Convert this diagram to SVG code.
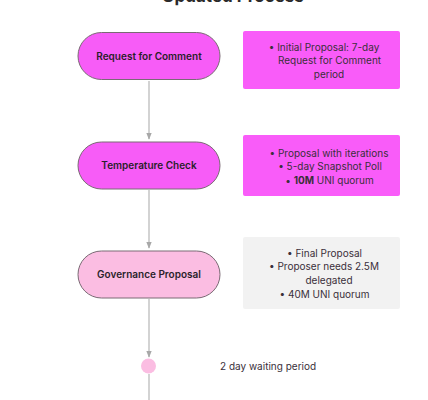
<svg xmlns="http://www.w3.org/2000/svg" width="428" height="400" viewBox="0 0 428 400">
<style>
.node{stroke:#7a6a74;stroke-width:1}
.lbl{font-family:Inter,"Liberation Sans",sans-serif;font-size:10px;font-weight:600;fill:#2a1f2a;text-anchor:middle}
.txt{font-family:Inter,"Liberation Sans",sans-serif;font-size:10px;fill:#3a2f3a;text-anchor:middle}
.conn{stroke:#c4c4c4;stroke-width:1.5;fill:none}
</style>
<defs>
<marker id="arr" viewBox="0 0 10 10" refX="9" refY="5" markerWidth="4.5" markerHeight="4.5" orient="auto" markerUnits="strokeWidth">
<path d="M0,1 L10,5 L0,9 z" fill="#a8a8a8"/>
</marker>
</defs>
<rect width="428" height="400" fill="#ffffff"/>
<text x="233" y="2" font-family="Inter,'Liberation Sans',sans-serif" font-size="17" font-weight="700" fill="#2a2a2a" text-anchor="middle">Updated Process</text>
<g id="connectors">
<line class="conn" x1="149" y1="81" x2="149" y2="139" marker-end="url(#arr)"/>
<line class="conn" x1="149" y1="190" x2="149" y2="248" marker-end="url(#arr)"/>
<line class="conn" x1="149" y1="299" x2="149" y2="357" marker-end="url(#arr)"/>
<line class="conn" x1="149" y1="374" x2="149" y2="400"/>
</g>
<g id="rfc">
<rect class="node" x="78" y="32.5" width="142" height="47" rx="23.5" fill="#f75cf7"/>
<text class="lbl" x="149" y="59.5">Request for Comment</text>
</g>
<g id="rfc-note">
<rect x="243" y="31" width="157" height="58" rx="2" fill="#f95cf9"/>
<text class="txt" x="324" y="50.5">• Initial Proposal: 7-day</text>
<text class="txt" x="329.5" y="64">Request for Comment</text>
<text class="txt" x="329" y="77.5">period</text>
</g>
<g id="temp">
<rect class="node" x="78" y="142" width="142" height="47" rx="23.5" fill="#f75cf7"/>
<text class="lbl" x="149" y="169">Temperature Check</text>
</g>
<g id="temp-note">
<rect x="243" y="135" width="157" height="61" rx="2" fill="#f95cf9"/>
<text class="txt" x="329" y="156.5">• Proposal with iterations</text>
<text class="txt" x="330" y="170">• 5-day Snapshot Poll</text>
<text class="txt" x="329.5" y="183.5">• <tspan font-weight="700">10M</tspan> UNI quorum</text>
</g>
<g id="gov">
<rect class="node" x="78" y="251" width="142" height="47" rx="23.5" fill="#fbbde2"/>
<text class="lbl" x="149" y="278">Governance Proposal</text>
</g>
<g id="gov-note">
<rect x="243" y="237" width="157" height="72" rx="2" fill="#f2f2f2"/>
<text class="txt" x="324.5" y="256.5">• Final Proposal</text>
<text class="txt" x="324" y="270">• Proposer needs 2.5M</text>
<text class="txt" x="329" y="284">delegated</text>
<text class="txt" x="324.5" y="297.5">• 40M UNI quorum</text>
</g>
<g id="wait">
<circle cx="148.5" cy="366" r="7.5" fill="#fbbde2"/>
<text class="txt" x="220" y="369.5" style="text-anchor:start">2 day waiting period</text>
</g>
</svg>
